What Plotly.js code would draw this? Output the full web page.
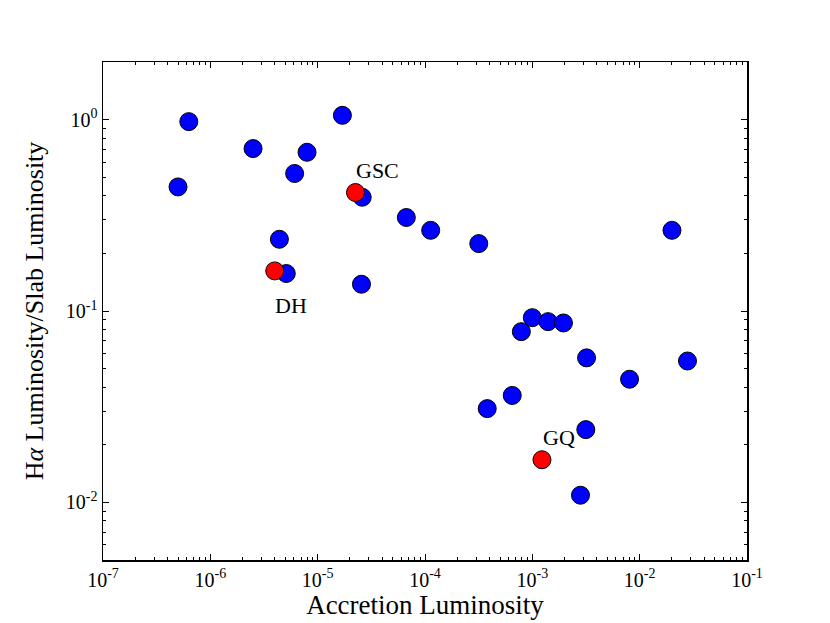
<!DOCTYPE html>
<html><head><meta charset="utf-8">
<script src="https://cdn.plot.ly/plotly-3.0.1.min.js"></script>
<style>body{margin:0;background:#fff}</style>
</head><body><div id="chart" style="width:830px;height:623px"></div>
<script>
// Blue sample
const blueX = [6.3e-7, 5.0e-7, 2.5e-6, 7.96e-6, 6.1e-6, 1.70e-5, 2.6e-5, 6.7e-5, 1.13e-4, 4.4e-6, 5.1e-6, 2.56e-5,
               3.17e-4, 0.0200, 1.0e-3, 1.40e-3, 1.95e-3, 7.9e-4, 3.2e-3, 0.0279, 8.05e-3, 6.5e-4, 3.8e-4, 3.15e-3, 2.81e-3];
const blueY = [0.976, 0.445, 0.706, 0.675, 0.523, 1.053, 0.393, 0.308, 0.264, 0.237, 0.157, 0.138,
               0.225, 0.264, 0.0923, 0.088, 0.0866, 0.078, 0.0569, 0.0548, 0.044, 0.0362, 0.0309, 0.024, 0.0109];
// Highlighted objects
const redNames = ["GSC", "DH", "GQ"];
const redX = [2.25e-5, 3.98e-6, 1.23e-3];
const redY = [0.416, 0.162, 0.0167];
// Label positions
const labelX = [3.6e-5, 5.7e-6, 1.78e-3];
const labelY = [0.544, 0.107, 0.0217];
// Tick labels
const xTickVals = [1e-7, 1e-6, 1e-5, 1e-4, 1e-3, 1e-2, 1e-1];
const xTickText = ["10<sup>-7</sup>","10<sup>-6</sup>","10<sup>-5</sup>","10<sup>-4</sup>","10<sup>-3</sup>","10<sup>-2</sup>","10<sup>-1</sup>"];
const yTickVals = [1e-2, 1e-1, 1e0];
const yTickText = ["10<sup>-2</sup>","10<sup>-1</sup>","10<sup>0</sup>"];

function minorTicks(lo, hi) {
  const out = [];
  for (let e = lo; e < hi; e++) for (let m = 2; m <= 9; m++) out.push(m * Math.pow(10, e));
  return out;
}

const font = "Liberation Serif, Times New Roman, serif";
const traces = [
  {x: blueX, y: blueY, mode: "markers", type: "scatter",
   marker: {color: "#0000ff", size: 18, line: {color: "#000", width: 1}}},
  {x: redX, y: redY, mode: "markers", type: "scatter", text: redNames,
   marker: {color: "#ff0000", size: 18, line: {color: "#000", width: 1}}}
];
const annotations = redNames.map((n, i) => ({
  x: Math.log10(labelX[i]), y: Math.log10(labelY[i]), text: n, showarrow: false,
  font: {family: font, size: 22, color: "#000"}
}));
const axisCommon = {
  type: "log", showgrid: false, zeroline: false, showline: true, linecolor: "#000", linewidth: 1.5,
  mirror: "allticks", ticks: "inside", ticklen: 6, tickwidth: 1, tickcolor: "#000",
  tickmode: "array", tickfont: {family: font, size: 20, color: "#000"}
};
const layout = {
  width: 830, height: 623, showlegend: false,
  paper_bgcolor: "#fff", plot_bgcolor: "#fff",
  margin: {l: 103, r: 83, t: 62, b: 63},
  font: {family: font, color: "#000"},
  xaxis: Object.assign({}, axisCommon, {
    range: [-7, -1], tickvals: xTickVals, ticktext: xTickText, ticklabelstandoff: 1,
    minor: {tickmode: "array", tickvals: minorTicks(-7, -1), ticks: "inside", ticklen: 3, tickcolor: "#000", tickwidth: 1},
    title: {text: "Accretion Luminosity", font: {family: font, size: 27}, standoff: 2}
  }),
  yaxis: Object.assign({}, axisCommon, {
    range: [Math.log10(0.005), Math.log10(2)], tickvals: yTickVals, ticktext: yTickText,
    minor: {tickmode: "array", tickvals: minorTicks(-3, 1), ticks: "inside", ticklen: 3, tickcolor: "#000", tickwidth: 1},
    title: {text: "H<i>α</i> Luminosity/Slab Luminosity", font: {family: font, size: 26}, standoff: 14}
  }),
  annotations: annotations
};
Plotly.newPlot("chart", traces, layout, {displayModeBar: false, staticPlot: true});
</script></body></html>
